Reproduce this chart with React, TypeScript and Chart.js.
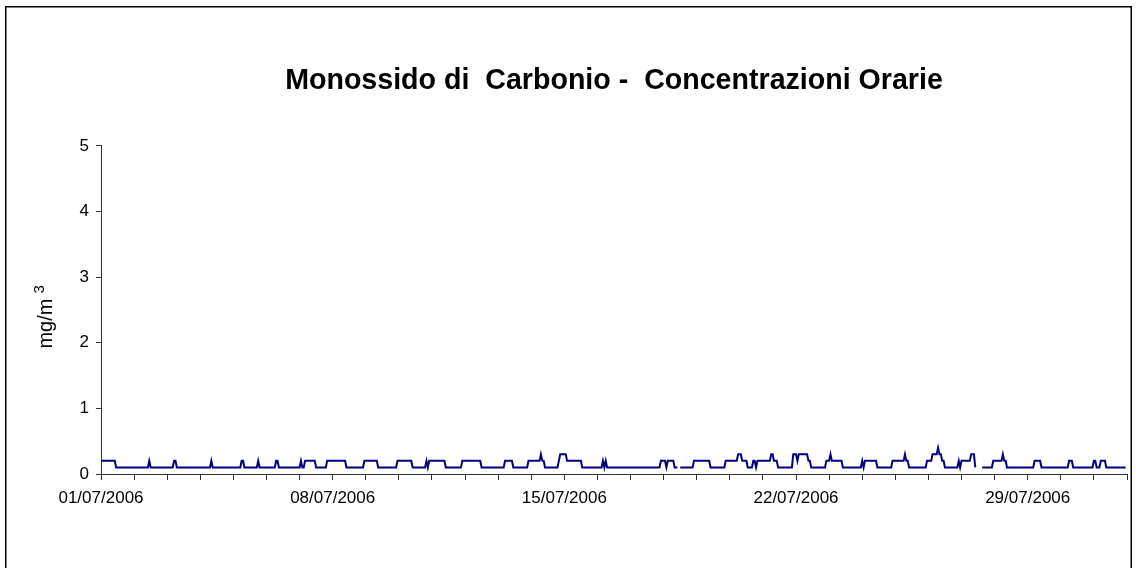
import React, { useEffect, useRef } from "react";
import { Chart, registerables } from "chart.js";

Chart.register(...registerables);

const FONT = "'Liberation Sans', Arial, sans-serif";

const chartTitle = "Monossido di  Carbonio -  Concentrazioni Orarie";
const yTitleMain = "mg/m";
const yTitleSup = "3";

// x-axis labels (one every 7 days)
const tickLabels = ["01/07/2006", "08/07/2006", "15/07/2006", "22/07/2006", "29/07/2006"];
const tickLabelDays = [0, 7, 14, 21, 28];
const hoursPerDay = 24;

// y-axis
const yMin = 0;
const yMax = 5;
const yStep = 1;

// Hourly CO concentrations (mg/m3), one row per day of July 2006, hours 0..23
const hourly: (number | null)[][] = [
  /* 01 */ [0.2, 0.2, 0.2, 0.2, 0.2, 0.2, 0.2, 0.2, 0.2, 0.2, 0.2, 0.1, 0.1, 0.1, 0.1, 0.1, 0.1, 0.1, 0.1, 0.1, 0.1, 0.1, 0.1, 0.1],
  /* 02 */ [0.1, 0.1, 0.1, 0.1, 0.1, 0.1, 0.1, 0.1, 0.1, 0.1, 0.1, 0.2, 0.1, 0.1, 0.1, 0.1, 0.1, 0.1, 0.1, 0.1, 0.1, 0.1, 0.1, 0.1],
  /* 03 */ [0.1, 0.1, 0.1, 0.1, 0.1, 0.2, 0.2, 0.1, 0.1, 0.1, 0.1, 0.1, 0.1, 0.1, 0.1, 0.1, 0.1, 0.1, 0.1, 0.1, 0.1, 0.1, 0.1, 0.1],
  /* 04 */ [0.1, 0.1, 0.1, 0.1, 0.1, 0.1, 0.1, 0.1, 0.2, 0.1, 0.1, 0.1, 0.1, 0.1, 0.1, 0.1, 0.1, 0.1, 0.1, 0.1, 0.1, 0.1, 0.1, 0.1],
  /* 05 */ [0.1, 0.1, 0.1, 0.1, 0.1, 0.1, 0.2, 0.2, 0.1, 0.1, 0.1, 0.1, 0.1, 0.1, 0.1, 0.1, 0.1, 0.1, 0.2, 0.1, 0.1, 0.1, 0.1, 0.1],
  /* 06 */ [0.1, 0.1, 0.1, 0.1, 0.1, 0.1, 0.1, 0.2, 0.2, 0.1, 0.1, 0.1, 0.1, 0.1, 0.1, 0.1, 0.1, 0.1, 0.1, 0.1, 0.1, 0.1, 0.1, 0.1],
  /* 07 */ [0.1, 0.2, 0.1, 0.1, 0.2, 0.2, 0.2, 0.2, 0.2, 0.2, 0.2, 0.2, 0.1, 0.1, 0.1, 0.1, 0.1, 0.1, 0.1, 0.1, 0.2, 0.2, 0.2, 0.2],
  /* 08 */ [0.2, 0.2, 0.2, 0.2, 0.2, 0.2, 0.2, 0.2, 0.2, 0.2, 0.1, 0.1, 0.1, 0.1, 0.1, 0.1, 0.1, 0.1, 0.1, 0.1, 0.1, 0.1, 0.1, 0.2],
  /* 09 */ [0.2, 0.2, 0.2, 0.2, 0.2, 0.2, 0.2, 0.2, 0.2, 0.1, 0.1, 0.1, 0.1, 0.1, 0.1, 0.1, 0.1, 0.1, 0.1, 0.1, 0.1, 0.1, 0.1, 0.2],
  /* 10 */ [0.2, 0.2, 0.2, 0.2, 0.2, 0.2, 0.2, 0.2, 0.2, 0.2, 0.1, 0.1, 0.1, 0.1, 0.1, 0.1, 0.1, 0.1, 0.1, 0.1, 0.2, 0.1, 0.2, 0.2],
  /* 11 */ [0.2, 0.2, 0.2, 0.2, 0.2, 0.2, 0.2, 0.2, 0.2, 0.2, 0.1, 0.1, 0.1, 0.1, 0.1, 0.1, 0.1, 0.1, 0.1, 0.1, 0.1, 0.1, 0.2, 0.2],
  /* 12 */ [0.2, 0.2, 0.2, 0.2, 0.2, 0.2, 0.2, 0.2, 0.2, 0.2, 0.2, 0.2, 0.1, 0.1, 0.1, 0.1, 0.1, 0.1, 0.1, 0.1, 0.1, 0.1, 0.1, 0.1],
  /* 13 */ [0.1, 0.1, 0.1, 0.1, 0.1, 0.2, 0.2, 0.2, 0.2, 0.2, 0.2, 0.1, 0.1, 0.1, 0.1, 0.1, 0.1, 0.1, 0.1, 0.1, 0.1, 0.1, 0.2, 0.2],
  /* 14 */ [0.2, 0.2, 0.2, 0.2, 0.2, 0.2, 0.2, 0.3, 0.2, 0.2, 0.1, 0.1, 0.1, 0.1, 0.1, 0.1, 0.1, 0.1, 0.1, 0.1, 0.2, 0.3, 0.3, 0.3],
  /* 15 */ [0.3, 0.3, 0.2, 0.2, 0.2, 0.2, 0.2, 0.2, 0.2, 0.2, 0.2, 0.2, 0.2, 0.1, 0.1, 0.1, 0.1, 0.1, 0.1, 0.1, 0.1, 0.1, 0.1, 0.1],
  /* 16 */ [0.1, 0.1, 0.1, 0.1, 0.2, 0.1, 0.2, 0.1, 0.1, 0.1, 0.1, 0.1, 0.1, 0.1, 0.1, 0.1, 0.1, 0.1, 0.1, 0.1, 0.1, 0.1, 0.1, 0.1],
  /* 17 */ [0.1, 0.1, 0.1, 0.1, 0.1, 0.1, 0.1, 0.1, 0.1, 0.1, 0.1, 0.1, 0.1, 0.1, 0.1, 0.1, 0.1, 0.1, 0.1, 0.1, 0.1, 0.1, 0.2, 0.2],
  /* 18 */ [0.2, 0.2, 0.1, 0.2, 0.2, 0.2, 0.2, 0.2, 0.1, 0.1, 0.1, null, 0.1, 0.1, 0.1, 0.1, 0.1, 0.1, 0.1, 0.1, 0.1, 0.1, 0.2, 0.2],
  /* 19 */ [0.2, 0.2, 0.2, 0.2, 0.2, 0.2, 0.2, 0.2, 0.2, 0.2, 0.1, 0.1, 0.1, 0.1, 0.1, 0.1, 0.1, 0.1, 0.1, 0.1, 0.1, 0.2, 0.2, 0.2],
  /* 20 */ [0.2, 0.2, 0.2, 0.2, 0.2, 0.2, 0.3, 0.3, 0.3, 0.2, 0.2, 0.2, 0.2, 0.1, 0.1, 0.1, 0.1, 0.2, 0.2, 0.1, 0.2, 0.2, 0.2, 0.2],
  /* 21 */ [0.2, 0.2, 0.2, 0.2, 0.2, 0.2, 0.3, 0.3, 0.2, 0.2, 0.2, 0.1, 0.1, 0.1, 0.1, 0.1, 0.1, 0.1, 0.1, 0.1, 0.1, 0.1, 0.3, 0.3],
  /* 22 */ [0.3, 0.2, 0.3, 0.3, 0.3, 0.3, 0.3, 0.3, 0.3, 0.2, 0.2, 0.1, 0.1, 0.1, 0.1, 0.1, 0.1, 0.1, 0.1, 0.1, 0.1, 0.1, 0.2, 0.2],
  /* 23 */ [0.2, 0.3, 0.2, 0.2, 0.2, 0.2, 0.2, 0.2, 0.2, 0.2, 0.1, 0.1, 0.1, 0.1, 0.1, 0.1, 0.1, 0.1, 0.1, 0.1, 0.1, 0.1, 0.1, 0.1],
  /* 24 */ [0.2, 0.1, 0.2, 0.2, 0.2, 0.2, 0.2, 0.2, 0.2, 0.2, 0.2, 0.1, 0.1, 0.1, 0.1, 0.1, 0.1, 0.1, 0.1, 0.1, 0.1, 0.1, 0.2, 0.2],
  /* 25 */ [0.2, 0.2, 0.2, 0.2, 0.2, 0.2, 0.2, 0.3, 0.2, 0.2, 0.1, 0.1, 0.1, 0.1, 0.1, 0.1, 0.1, 0.1, 0.1, 0.1, 0.1, 0.1, 0.1, 0.2],
  /* 26 */ [0.2, 0.2, 0.2, 0.3, 0.3, 0.3, 0.3, 0.4, 0.3, 0.3, 0.2, 0.2, 0.1, 0.1, 0.1, 0.1, 0.1, 0.1, 0.1, 0.1, 0.1, 0.1, 0.2, 0.1],
  /* 27 */ [0.2, 0.2, 0.2, 0.2, 0.2, 0.2, 0.2, 0.3, 0.3, 0.3, 0.1, null, null, null, null, 0.1, 0.1, 0.1, 0.1, 0.1, 0.1, 0.1, 0.1, 0.2],
  /* 28 */ [0.2, 0.2, 0.2, 0.2, 0.2, 0.2, 0.3, 0.2, 0.2, 0.1, 0.1, 0.1, 0.1, 0.1, 0.1, 0.1, 0.1, 0.1, 0.1, 0.1, 0.1, 0.1, 0.1, 0.1],
  /* 29 */ [0.1, 0.1, 0.1, 0.1, 0.1, 0.2, 0.2, 0.2, 0.2, 0.2, 0.1, 0.1, 0.1, 0.1, 0.1, 0.1, 0.1, 0.1, 0.1, 0.1, 0.1, 0.1, 0.1, 0.1],
  /* 30 */ [0.1, 0.1, 0.1, 0.1, 0.1, 0.1, 0.2, 0.2, 0.2, 0.1, 0.1, 0.1, 0.1, 0.1, 0.1, 0.1, 0.1, 0.1, 0.1, 0.1, 0.1, 0.1, 0.1, 0.1],
  /* 31 */ [0.2, 0.2, 0.1, 0.1, 0.1, 0.2, 0.2, 0.2, 0.2, 0.1, 0.1, 0.1, 0.1, 0.1, 0.1, 0.1, 0.1, 0.1, 0.1, 0.1, 0.1, 0.1, 0.1, 0.1],
];

const borderPlugin = {
  id: "outerBorder",
  beforeDraw(chart: any) {
    const { ctx, width, height } = chart;
    ctx.save();
    ctx.fillStyle = "#ffffff";
    ctx.fillRect(0, 0, width, height);
    ctx.strokeStyle = "#000000";
    ctx.lineWidth = 1.5;
    ctx.strokeRect(5.75, 6.75, 1125.5, height + 20);
    ctx.restore();
  },
};

const yTitlePlugin = {
  id: "yTitleSup",
  afterDraw(chart: any) {
    const { ctx, chartArea } = chart;
    ctx.save();
    const cy = (chartArea.top + chartArea.bottom) / 2 + 7;
    ctx.font = `20px ${FONT}`;
    const wMain = ctx.measureText(yTitleMain).width;
    ctx.font = `15px ${FONT}`;
    const wSup = ctx.measureText(yTitleSup).width;
    const gap = 5;
    const total = wMain + gap + wSup;
    ctx.translate(52, cy);
    ctx.rotate(-Math.PI / 2);
    ctx.fillStyle = "#000000";
    ctx.textAlign = "left";
    ctx.textBaseline = "alphabetic";
    ctx.font = `20px ${FONT}`;
    ctx.fillText(yTitleMain, -total / 2, 0);
    ctx.font = `15px ${FONT}`;
    ctx.fillText(yTitleSup, -total / 2 + wMain + gap, -8);
    ctx.restore();
  },
};

export default function App() {
  const canvasRef = useRef<HTMLCanvasElement | null>(null);

  useEffect(() => {
    const canvas = canvasRef.current;
    if (!canvas) return;

    const points = hourly.flatMap((day, d) =>
      day.map((v, h) => ({ x: d * hoursPerDay + h, y: v }))
    );
    const dayTicks = Array.from({ length: hourly.length + 1 }, (_, i) => i * hoursPerDay);

    const chart = new Chart(canvas, {
      type: "line",
      data: {
        datasets: [
          {
            data: points as any,
            borderColor: "#000080",
            borderWidth: 2,
            pointRadius: 0,
            pointHoverRadius: 0,
            tension: 0,
            spanGaps: false,
            fill: false,
          },
        ],
      },
      options: {
        animation: false,
        responsive: false,
        maintainAspectRatio: false,
        events: [],
        layout: { padding: { top: 0, left: 0, right: 9, bottom: 54 } },
        plugins: {
          legend: { display: false },
          tooltip: { enabled: false },
          title: {
            display: true,
            text: chartTitle,
            color: "#000000",
            fullSize: false,
            font: { family: FONT, size: 28.6, weight: "bold" },
            padding: { top: 64, bottom: 47.5 },
          },
        },
        scales: {
          x: {
            type: "linear",
            min: 0,
            max: hourly.length * hoursPerDay,
            afterBuildTicks: (scale: any) => {
              scale.ticks = dayTicks.map((v) => ({ value: v }));
            },
            afterFit: (scale: any) => {
              scale.height = 40;
            },
            ticks: {
              autoSkip: false,
              maxRotation: 0,
              minRotation: 0,
              color: "#000000",
              padding: 8,
              font: { family: FONT, size: 17 },
              callback: (value: any) => {
                const day = Math.round(Number(value) / hoursPerDay);
                const idx = tickLabelDays.indexOf(day);
                return idx >= 0 ? tickLabels[idx] : "";
              },
            },
            grid: {
              display: true,
              drawOnChartArea: false,
              drawTicks: true,
              tickLength: 6,
              tickColor: "#333333",
              tickWidth: 1,
            },
            border: { display: true, color: "#333333", width: 1 },
          },
          y: {
            min: yMin,
            max: yMax,
            afterFit: (scale: any) => {
              scale.width = 101;
            },
            ticks: {
              stepSize: yStep,
              color: "#000000",
              padding: 7,
              font: { family: FONT, size: 17 },
            },
            grid: {
              display: true,
              drawOnChartArea: false,
              drawTicks: true,
              tickLength: 5,
              tickColor: "#333333",
              tickWidth: 1,
            },
            border: { display: true, color: "#333333", width: 1 },
          },
        },
      },
      plugins: [borderPlugin, yTitlePlugin],
    });

    return () => chart.destroy();
  }, []);

  return (
    <div style={{ position: "absolute", left: 0, top: 0, width: 1136, height: 568, overflow: "hidden" }}>
      <canvas ref={canvasRef} width={1136} height={568} style={{ display: "block" }} />
    </div>
  );
}
